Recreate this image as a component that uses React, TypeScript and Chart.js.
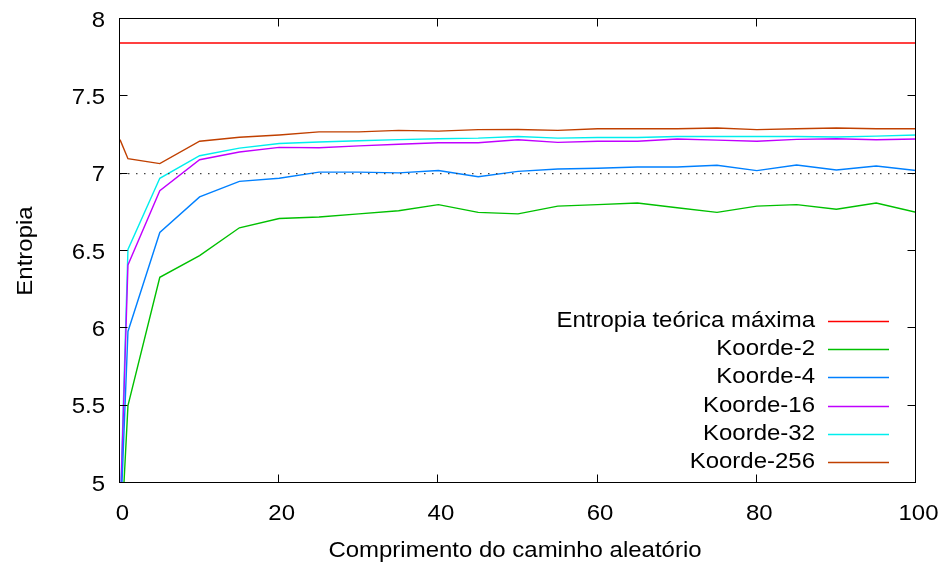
import React, { useEffect, useRef } from "react";
import { Chart, registerables } from "chart.js";

Chart.register(...registerables);

const walkLengths = [0, 1, 5, 10, 15, 20, 25, 30, 35, 40, 45, 50, 55, 60, 65, 70, 75, 80, 85, 90, 95, 100];

const maxEntropy = 7.845;
const referenceLevel = 7;

const koorde2 = [4.5, 5.5, 6.33, 6.47, 6.65, 6.71, 6.72, 6.74, 6.76, 6.8, 6.75, 6.74, 6.79, 6.8, 6.81, 6.78, 6.75, 6.79, 6.8, 6.77, 6.81, 6.75];
const koorde4 = [4.67, 5.98, 6.62, 6.85, 6.95, 6.97, 7.01, 7.01, 7.005, 7.02, 6.98, 7.015, 7.03, 7.035, 7.043, 7.043, 7.054, 7.02, 7.056, 7.024, 7.05, 7.02];
const koorde16 = [4.75, 6.41, 6.89, 7.09, 7.14, 7.17, 7.168, 7.18, 7.19, 7.2, 7.2, 7.219, 7.202, 7.21, 7.21, 7.224, 7.217, 7.21, 7.222, 7.226, 7.219, 7.224];
const koorde32 = [4.78, 6.51, 6.97, 7.116, 7.165, 7.195, 7.205, 7.213, 7.22, 7.226, 7.23, 7.24, 7.23, 7.234, 7.234, 7.24, 7.24, 7.24, 7.24, 7.237, 7.243, 7.25];
const koorde256 = [7.22, 7.097, 7.065, 7.21, 7.235, 7.25, 7.27, 7.27, 7.28, 7.275, 7.285, 7.286, 7.28, 7.29, 7.29, 7.29, 7.295, 7.285, 7.29, 7.295, 7.29, 7.29];

const seriesLabels = ["Entropia teórica máxima", "Koorde-2", "Koorde-4", "Koorde-16", "Koorde-32", "Koorde-256"];
const seriesColors = ["#ff0000", "#00c000", "#0080ff", "#c000ff", "#00eeee", "#c04000"];

const xTitle = "Comprimento do caminho aleatório";
const yTitle = "Entropia";

const FONT = "'Liberation Sans', Arial, Helvetica, sans-serif";
const FONT_SIZE = 22;
const STRETCH = 1.09;

const toPoints = (ys: number[]) => walkLengths.map((x, i) => ({ x, y: ys[i] }));

function stretchedText(ctx: CanvasRenderingContext2D, text: string, x: number, y: number, align: CanvasTextAlign, rotate = 0) {
  ctx.save();
  ctx.translate(x, y);
  if (rotate) ctx.rotate(rotate);
  ctx.scale(STRETCH, 1);
  ctx.textAlign = align;
  ctx.textBaseline = "alphabetic";
  ctx.fillText(text, 0, 0);
  ctx.restore();
}

const framePlugin = {
  id: "gnuplotFrame",
  afterDatasetsDraw(chart: any) {
    const { ctx, chartArea, scales } = chart;
    const { left, right, top, bottom } = chartArea;
    const L = Math.round(left) - 0.5;
    const R = Math.round(right) - 0.5;
    const T = Math.round(top) - 0.5;
    const B = Math.round(bottom) - 0.5;
    ctx.save();
    ctx.strokeStyle = "#000";
    ctx.lineWidth = 1;
    ctx.beginPath();
    const tl = 8;
    scales.x.ticks.forEach((t: any) => {
      const px = Math.round(scales.x.getPixelForValue(t.value)) - 0.5;
      ctx.moveTo(px, B);
      ctx.lineTo(px, B - tl);
      ctx.moveTo(px, T);
      ctx.lineTo(px, T + tl);
    });
    scales.y.ticks.forEach((t: any) => {
      const py = Math.round(scales.y.getPixelForValue(t.value)) - 0.5;
      ctx.moveTo(L, py);
      ctx.lineTo(L + tl, py);
      ctx.moveTo(R, py);
      ctx.lineTo(R - tl, py);
    });
    ctx.stroke();
    ctx.strokeRect(L, T, R - L, B - T);

    ctx.font = `${FONT_SIZE}px ${FONT}`;
    ctx.fillStyle = "#000";

    // tick labels
    scales.y.ticks.forEach((t: any) => {
      const py = scales.y.getPixelForValue(t.value);
      stretchedText(ctx, String(t.value), left - 15, py + 7.5, "right");
    });
    scales.x.ticks.forEach((t: any) => {
      const px = scales.x.getPixelForValue(t.value);
      stretchedText(ctx, String(t.value), px + 2.5, bottom + 37, "center");
    });

    // axis titles
    stretchedText(ctx, xTitle, (left + right) / 2 - 3, bottom + 74, "center");
    stretchedText(ctx, yTitle, 32, (top + bottom) / 2, "center", -Math.PI / 2);

    // key
    const rowH = 28.3;
    const firstY = top + 301.7;
    const lineEnd = right - 27;
    const lineStart = lineEnd - 61;
    const textRight = lineStart - 13;
    seriesLabels.forEach((label, i) => {
      const y = Math.round(firstY + i * rowH);
      stretchedText(ctx, label, textRight, y + 6, "right");
      ctx.beginPath();
      ctx.strokeStyle = seriesColors[i];
      ctx.lineWidth = 1.4;
      ctx.moveTo(lineStart, y + 0.5);
      ctx.lineTo(lineEnd, y + 0.5);
      ctx.stroke();
    });
    ctx.restore();
  },
};

export default function App() {
  const canvasRef = useRef<HTMLCanvasElement | null>(null);

  useEffect(() => {
    if (!canvasRef.current) return;
    const seriesData = [walkLengths.map(() => maxEntropy), koorde2, koorde4, koorde16, koorde32, koorde256];
    const datasets: any[] = [
      {
        label: "ref7",
        data: toPoints(walkLengths.map(() => referenceLevel)),
        borderColor: "#444",
        borderWidth: 1.3,
        borderDash: [1.5, 6.5],
        pointRadius: 0,
        fill: false,
      },
      ...seriesLabels.map((label, i) => ({
        label,
        data: toPoints(seriesData[i]),
        borderColor: seriesColors[i],
        borderWidth: 1.4,
        pointRadius: 0,
        fill: false,
        tension: 0,
      })),
    ];

    const zeroPad = (scale: any) => {
      scale.paddingTop = 0;
      scale.paddingBottom = 0;
      scale.paddingLeft = 0;
      scale.paddingRight = 0;
    };

    const chart = new Chart(canvasRef.current, {
      type: "line",
      data: { datasets },
      options: {
        animation: false,
        responsive: true,
        maintainAspectRatio: false,
        layout: { padding: { left: 0, top: 19, right: 27, bottom: 0 } },
        plugins: {
          legend: { display: false },
          tooltip: { enabled: false },
        },
        scales: {
          x: {
            type: "linear",
            min: 0,
            max: 100,
            ticks: { stepSize: 20, display: false },
            grid: { display: false, drawTicks: false },
            border: { display: false },
            afterFit: (scale: any) => {
              scale.height = 84;
              zeroPad(scale);
            },
          },
          y: {
            type: "linear",
            min: 5,
            max: 8,
            ticks: { stepSize: 0.5, display: false },
            grid: { display: false, drawTicks: false },
            border: { display: false },
            afterFit: (scale: any) => {
              scale.width = 120;
              zeroPad(scale);
            },
          },
        },
      },
      plugins: [framePlugin],
    } as any);

    return () => chart.destroy();
  }, []);

  return (
    <div style={{ position: "absolute", left: 0, top: 0, width: 943, height: 567, background: "#fff" }}>
      <canvas ref={canvasRef} />
    </div>
  );
}
